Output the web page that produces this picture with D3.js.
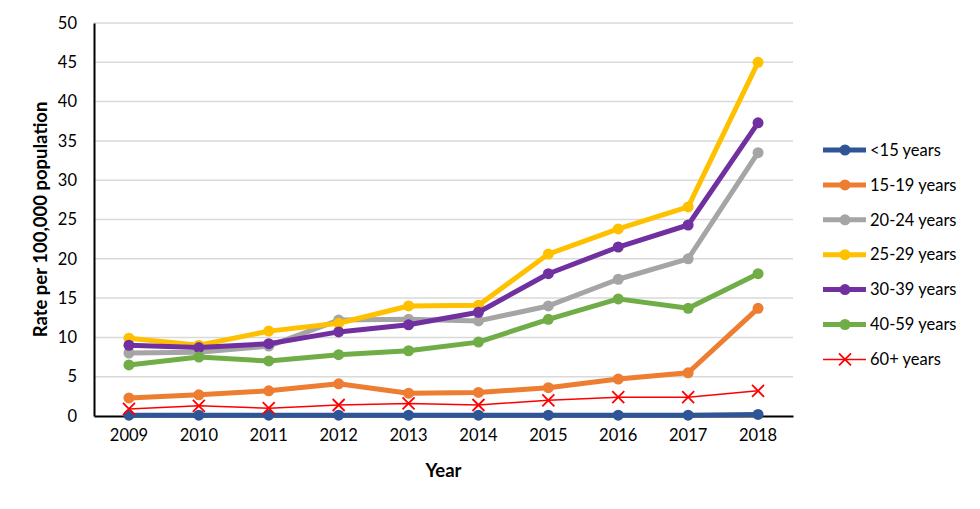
<!DOCTYPE html>
<html>
<head>
<meta charset="utf-8">
<script src="https://cdn.jsdelivr.net/npm/d3@7"></script>
<style>
  body { margin: 0; background: #fff; }
  svg text { font-family: Lato, "Open Sans", sans-serif; fill: #000; }
</style>
</head>
<body>
<svg width="980" height="509"></svg>
<script>
const years = ["2009", "2010", "2011", "2012", "2013", "2014", "2015", "2016", "2017", "2018"];
const seriesNames = ["<15 years", "15-19 years", "20-24 years", "25-29 years", "30-39 years", "40-59 years", "60+ years"];
const seriesColors = ["#2F5597", "#ED7D31", "#A5A5A5", "#FFC000", "#7030A0", "#70AD47", "#FF0000"];

const under15 = [0.1, 0.1, 0.1, 0.1, 0.1, 0.1, 0.1, 0.1, 0.1, 0.2];
const age15_19 = [2.3, 2.7, 3.2, 4.1, 2.9, 3.0, 3.6, 4.7, 5.5, 13.7];
const age20_24 = [8.0, 8.1, 8.9, 12.2, 12.3, 12.1, 14.0, 17.4, 20.0, 33.5];
const age25_29 = [9.9, 9.0, 10.8, 11.8, 14.0, 14.1, 20.6, 23.8, 26.6, 45.0];
const age30_39 = [9.0, 8.7, 9.2, 10.7, 11.6, 13.2, 18.1, 21.5, 24.3, 37.3];
const age40_59 = [6.5, 7.5, 7.0, 7.8, 8.3, 9.4, 12.3, 14.9, 13.7, 18.1];
const age60plus = [0.9, 1.3, 1.0, 1.4, 1.6, 1.4, 2.0, 2.4, 2.4, 3.2];

const yTicks = [0, 5, 10, 15, 20, 25, 30, 35, 40, 45, 50];

const allValues = [under15, age15_19, age20_24, age25_29, age30_39, age40_59, age60plus];
const series = seriesNames.map(function(name, i) {
  return { name: name, color: seriesColors[i], values: allValues[i], cross: i === 6 };
});

const svg = d3.select("svg");
const margin = { left: 94, right: 187, top: 23, bottom: 93 };
const width = 980 - margin.left - margin.right;
const height = 509 - margin.top - margin.bottom;

const g = svg.append("g").attr("transform", "translate(" + margin.left + "," + margin.top + ")");

const x = d3.scaleBand().domain(years).range([0, width]);
const y = d3.scaleLinear().domain([0, 50]).range([height, 0]);

// gridlines
g.append("g").selectAll("line")
  .data(yTicks.slice(1))
  .enter().append("line")
    .attr("x1", 0).attr("x2", width)
    .attr("y1", function(d) { return y(d); })
    .attr("y2", function(d) { return y(d); })
    .attr("stroke", "#D9D9D9").attr("stroke-width", 1.5);

// axes
const yAxis = g.append("g")
  .call(d3.axisLeft(y).tickValues(yTicks).tickSize(0).tickPadding(17));
yAxis.select(".domain").attr("stroke", "#000").attr("stroke-width", 2);
yAxis.selectAll("text").style("font-size", "16.5px");

const xAxis = g.append("g")
  .attr("transform", "translate(0," + height + ")")
  .call(d3.axisBottom(x).tickSize(0).tickPadding(13));
xAxis.select(".domain").attr("stroke", "#000").attr("stroke-width", 2);
xAxis.selectAll("text").style("font-size", "16.5px");

// lines
const line = d3.line()
  .x(function(d, i) { return x(years[i]) + x.bandwidth() / 2; })
  .y(function(d) { return y(d); });

series.forEach(function(s) {
  g.append("path")
    .datum(s.values)
    .attr("fill", "none")
    .attr("stroke", s.color)
    .attr("stroke-width", s.cross ? 1.5 : 5)
    .attr("stroke-linejoin", "round")
    .attr("d", line);

  const pts = g.append("g").selectAll("g")
    .data(s.values)
    .enter().append("g")
      .attr("transform", function(d, i) {
        return "translate(" + (x(years[i]) + x.bandwidth() / 2) + "," + y(d) + ")";
      });

  if (s.cross) {
    pts.append("path")
      .attr("d", "M-6,-6L6,6M-6,6L6,-6")
      .attr("stroke", s.color).attr("stroke-width", 1.8).attr("fill", "none");
  } else {
    pts.append("circle").attr("r", 5.5).attr("fill", s.color);
  }
});

// axis titles
svg.append("text")
  .attr("transform", "translate(47," + (margin.top + height / 2) + ") rotate(-90)")
  .attr("text-anchor", "middle")
  .style("font-size", "18.5px").style("font-weight", "bold")
  .text("Rate per 100,000 population");

svg.append("text")
  .attr("x", margin.left + width / 2)
  .attr("y", 477)
  .attr("text-anchor", "middle")
  .style("font-size", "18.5px").style("font-weight", "bold")
  .text("Year");

// legend
const legend = svg.append("g").attr("class", "legend")
  .selectAll("g")
  .data(series)
  .enter().append("g")
    .attr("transform", function(d, i) { return "translate(823," + (150 + 34.9 * i) + ")"; });

legend.append("line")
  .attr("x1", 0).attr("x2", 43)
  .attr("stroke", function(d) { return d.color; })
  .attr("stroke-width", function(d) { return d.cross ? 1.5 : 5; });

legend.filter(function(d) { return !d.cross; })
  .append("circle").attr("cx", 22).attr("r", 5.5)
  .attr("fill", function(d) { return d.color; });

legend.filter(function(d) { return d.cross; })
  .append("path").attr("d", "M16,-6L28,6M16,6L28,-6")
  .attr("stroke", function(d) { return d.color; }).attr("stroke-width", 1.8);

legend.append("text")
  .attr("x", 47).attr("dy", "0.35em")
  .style("font-size", "16.5px")
  .text(function(d) { return d.name; });
</script>
</body>
</html>
